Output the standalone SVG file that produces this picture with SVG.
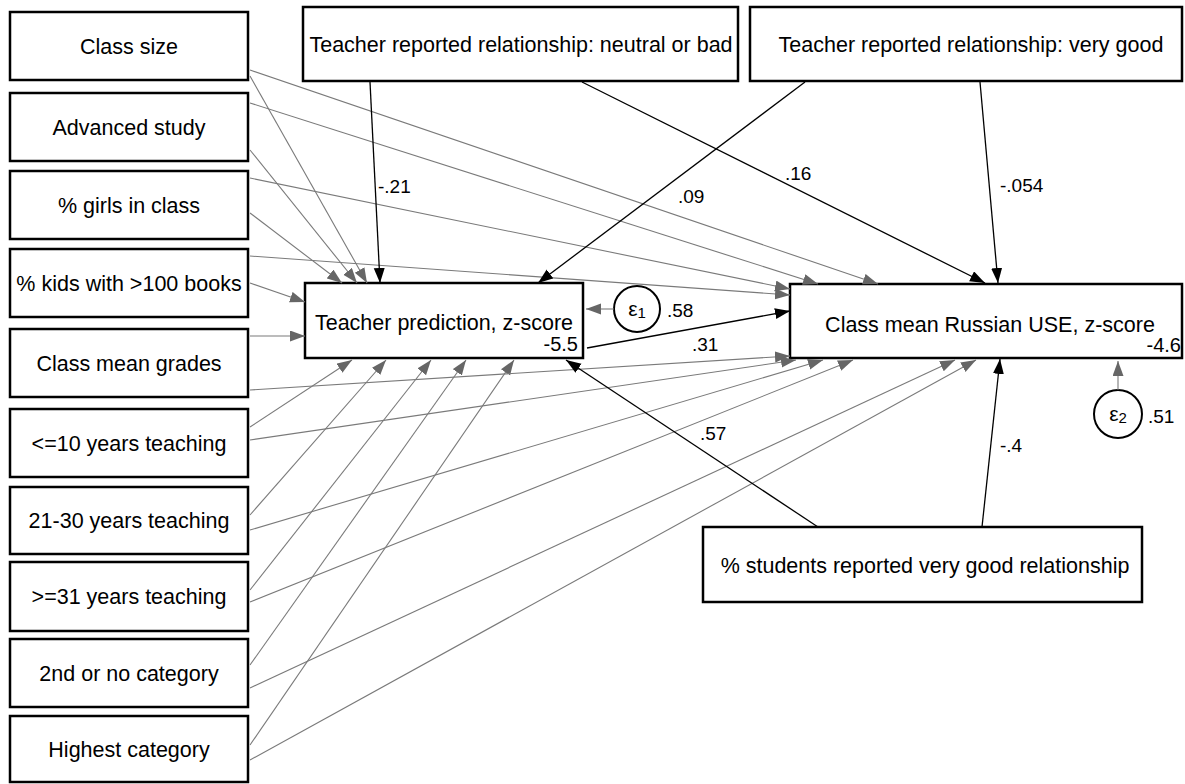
<svg xmlns="http://www.w3.org/2000/svg" width="1185" height="784" viewBox="0 0 1185 784">
<style>
  .box{fill:#fff;stroke:#000;stroke-width:2.5}
  .lbl{font-family:"Liberation Sans",Arial,sans-serif;font-size:21.5px;fill:#000;text-anchor:middle}
  .num{font-family:"Liberation Sans",Arial,sans-serif;font-size:19px;fill:#000}
  .g{stroke:#7a7a7a;stroke-width:1.1;fill:none;marker-end:url(#ag)}
  .k{stroke:#000;stroke-width:1.3;fill:none;marker-end:url(#ak)}
  .err{fill:#fff;stroke:#000;stroke-width:2}
</style>
<defs>
  <marker id="ag" markerUnits="userSpaceOnUse" markerWidth="16" markerHeight="12" refX="15" refY="5.5" orient="auto">
    <path d="M0,0 L15,5.5 L0,11 z" fill="#666"/>
  </marker>
  <marker id="ak" markerUnits="userSpaceOnUse" markerWidth="16" markerHeight="12" refX="15" refY="5.5" orient="auto">
    <path d="M0,0 L15,5.5 L0,11 z" fill="#000"/>
  </marker>
</defs>
<rect width="1185" height="784" fill="#fff"/>

<g id="n_classsize"><rect class="box" x="10" y="12" width="238" height="68"/><text class="lbl" x="129" y="54">Class size</text></g>
<g id="n_advanced"><rect class="box" x="10" y="93" width="238" height="68"/><text class="lbl" x="129" y="135">Advanced study</text></g>
<g id="n_girls"><rect class="box" x="10" y="171" width="238" height="68"/><text class="lbl" x="129" y="213">% girls in class</text></g>
<g id="n_books"><rect class="box" x="10" y="249" width="238" height="68"/><text class="lbl" x="129" y="291">% kids with &gt;100 books</text></g>
<g id="n_grades"><rect class="box" x="10" y="329" width="238" height="68"/><text class="lbl" x="129" y="371">Class mean grades</text></g>
<g id="n_le10"><rect class="box" x="10" y="409" width="238" height="68"/><text class="lbl" x="129" y="451">&lt;=10 years teaching</text></g>
<g id="n_21_30"><rect class="box" x="10" y="487" width="238" height="67"/><text class="lbl" x="129" y="528">21-30 years teaching</text></g>
<g id="n_ge31"><rect class="box" x="10" y="562" width="238" height="69"/><text class="lbl" x="129" y="604">&gt;=31 years teaching</text></g>
<g id="n_2nd"><rect class="box" x="10" y="639" width="238" height="68"/><text class="lbl" x="129" y="681">2nd or no category</text></g>
<g id="n_highest"><rect class="box" x="10" y="716" width="238" height="66"/><text class="lbl" x="129" y="757">Highest category</text></g>

<g id="n_neutral"><rect class="box" x="303" y="7" width="435" height="74"/><text class="lbl" x="521" y="52">Teacher reported relationship: neutral or bad</text></g>
<g id="n_verygood"><rect class="box" x="750" y="7" width="432" height="74"/><text class="lbl" x="971" y="52">Teacher reported relationship: very good</text></g>

<g id="n_pred"><rect class="box" x="305" y="283" width="278" height="75"/><text class="lbl" x="444" y="330">Teacher prediction, z-score</text><text class="num" x="578" y="351" style="text-anchor:end;font-size:20px">-5.5</text></g>
<g id="n_use"><rect class="box" x="790" y="284" width="392" height="74"/><text class="lbl" x="990" y="332">Class mean Russian USE, z-score</text><text class="num" x="1181" y="352" style="text-anchor:end;font-size:20px">-4.6</text></g>
<g id="n_students"><rect class="box" x="703" y="527" width="439" height="75"/><text class="lbl" x="925" y="573">% students reported very good relationship</text></g>

<g id="e1"><circle class="err" cx="637" cy="309" r="23"/><text class="num" x="637" y="316" style="text-anchor:middle;font-size:21px">ε<tspan font-size="15" dy="2">1</tspan></text></g>
<g id="e2"><circle class="err" cx="1118" cy="414" r="24"/><text class="num" x="1118" y="421" style="text-anchor:middle;font-size:21px">ε<tspan font-size="15" dy="2">2</tspan></text></g>

<g id="connectors">
  <line class="g" x1="250" y1="76" x2="367" y2="283"/>
  <line class="g" x1="250" y1="150" x2="357" y2="283"/>
  <line class="g" x1="250" y1="213" x2="342" y2="283"/>
  <line class="g" x1="250" y1="283" x2="305" y2="302"/>
  <line class="g" x1="250" y1="336" x2="305" y2="336"/>
  <line class="g" x1="250" y1="427" x2="352" y2="360"/>
  <line class="g" x1="250" y1="515" x2="386" y2="360"/>
  <line class="g" x1="250" y1="590" x2="431" y2="360"/>
  <line class="g" x1="250" y1="665" x2="466" y2="360"/>
  <line class="g" x1="250" y1="745" x2="514" y2="360"/>
  <line class="g" x1="250" y1="70" x2="878" y2="284"/>
  <line class="g" x1="250" y1="103" x2="818" y2="284"/>
  <line class="g" x1="250" y1="178" x2="790" y2="289"/>
  <line class="g" x1="250" y1="256" x2="790" y2="295"/>
  <line class="g" x1="250" y1="390" x2="790" y2="356"/>
  <line class="g" x1="250" y1="440" x2="796" y2="360"/>
  <line class="g" x1="250" y1="530" x2="823" y2="360"/>
  <line class="g" x1="250" y1="602" x2="853" y2="360"/>
  <line class="g" x1="250" y1="688" x2="955" y2="360"/>
  <line class="g" x1="250" y1="760" x2="976" y2="360"/>
  <line class="g" x1="614" y1="309" x2="586" y2="309"/>
  <line class="g" x1="1118" y1="390" x2="1118" y2="361"/>
  <line class="k" x1="370" y1="82" x2="380" y2="283"/>
  <line class="k" x1="582" y1="82" x2="985" y2="283"/>
  <line class="k" x1="805" y1="82" x2="538" y2="283"/>
  <line class="k" x1="980" y1="82" x2="998" y2="283"/>
  <line class="k" x1="587" y1="348" x2="790" y2="311"/>
  <line class="k" x1="818" y1="527" x2="566" y2="360"/>
  <line class="k" x1="982" y1="527" x2="1000" y2="359"/>
</g>

<g id="labels">
  <text class="num" x="378" y="193">-.21</text>
  <text class="num" x="785" y="180">.16</text>
  <text class="num" x="678" y="203">.09</text>
  <text class="num" x="1000" y="192">-.054</text>
  <text class="num" x="667" y="317">.58</text>
  <text class="num" x="692" y="351">.31</text>
  <text class="num" x="700" y="440">.57</text>
  <text class="num" x="1000" y="452">-.4</text>
  <text class="num" x="1148" y="423">.51</text>
</g>
</svg>
